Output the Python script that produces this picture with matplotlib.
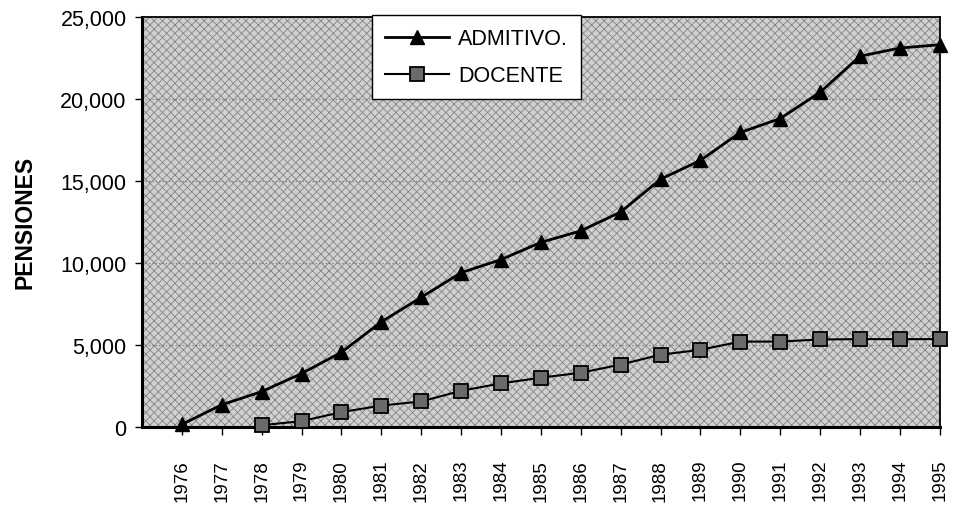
import matplotlib
matplotlib.use("Agg")
from matplotlib import pyplot as plt
from matplotlib.patches import Rectangle

# data
years = list(range(1976, 1996))
admitivo = [150, 1350, 2150, 3250, 4550, 6400, 7900, 9400, 10200, 11250,
            11950, 13100, 15100, 16250, 17950, 18800, 20400, 22600, 23100, 23300]
docente_years = list(range(1978, 1996))
docente = [100, 350, 900, 1300, 1550, 2200, 2650, 3000, 3300, 3800,
           4400, 4700, 5200, 5200, 5330, 5350, 5350, 5350]
yticks = [0, 5000, 10000, 15000, 20000, 25000]

plt.rcParams['font.family'] = ['Liberation Sans', 'DejaVu Sans']
plt.rcParams['hatch.linewidth'] = 0.6

fig = plt.figure(figsize=(9.56, 5.1), dpi=100)
ax = fig.add_axes([0.1485, 0.161, 0.8345, 0.804])

# dotted grey background
ax.set_facecolor('#d0d0d0')
ax.add_patch(Rectangle((0, 0), 1, 1, transform=ax.transAxes, facecolor='none',
                       edgecolor='#858585', hatch='xxxx', lw=0, zorder=0))

for v in yticks[1:-1]:
    ax.axhline(v, color='#707070', lw=0.8, ls=(0, (1, 2)), zorder=1)

ax.plot(years, admitivo, color='black', lw=2, marker='^', ms=10,
        mfc='black', mec='black', label='ADMITIVO.', zorder=3, clip_on=False)
ax.plot(docente_years, docente, color='black', lw=1.5, marker='s', ms=10,
        mfc='#6a6a6a', mec='black', mew=1.3, label='DOCENTE', zorder=3, clip_on=False)

ax.set_xlim(1975, 1995)
ax.set_ylim(0, 25000)
ax.set_xticks(years)
ax.set_xticklabels([str(y) for y in years], rotation=90, fontsize=13.5)
ax.set_yticks(yticks)
ax.set_yticklabels(['{:,}'.format(v) for v in yticks], fontsize=15.5)
ax.tick_params(axis='x', direction='out', length=6, pad=17, width=1)
ax.tick_params(axis='y', direction='out', length=5, width=1, pad=6)
ax.set_ylabel('PENSIONES', fontsize=16.5, fontweight='bold')
ax.yaxis.set_label_coords(-0.132, 0.5)

for side in ['left', 'bottom']:
    ax.spines[side].set_linewidth(2.2)
for side in ['top', 'right']:
    ax.spines[side].set_linewidth(1.3)

leg = ax.legend(loc='upper left', bbox_to_anchor=(0.288, 1.004), fontsize=15.5,
                frameon=True, fancybox=False, edgecolor='black', framealpha=1,
                handlelength=3.0, handletextpad=0.4, borderpad=0.6,
                labelspacing=0.75, borderaxespad=0)
leg.get_frame().set_linewidth(1)

fig.savefig('out.png', dpi=100)
